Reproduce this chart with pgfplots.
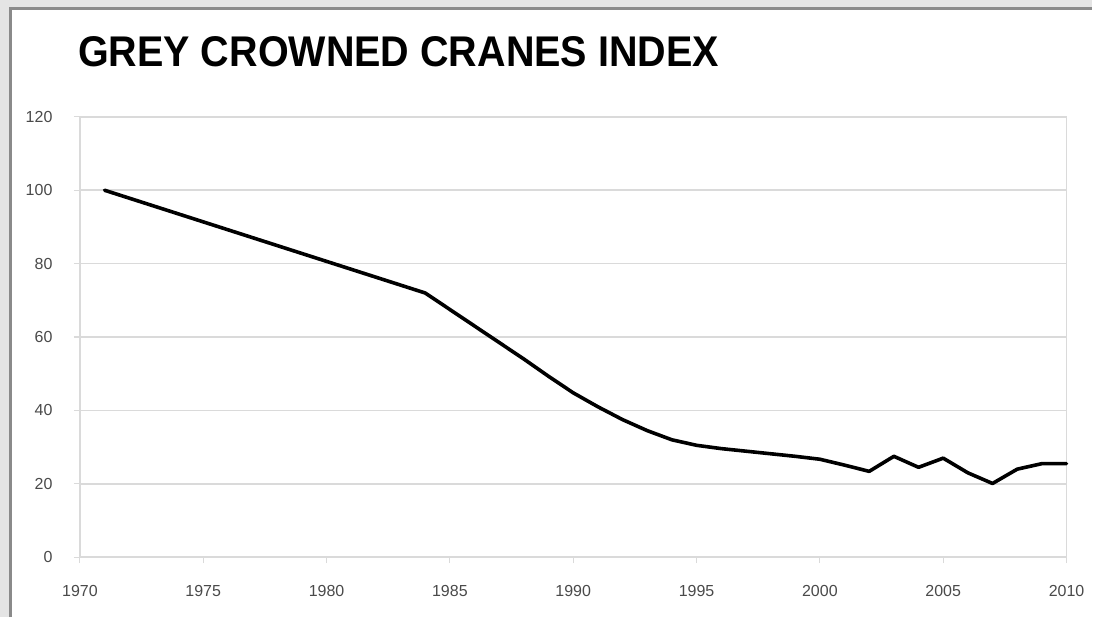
\documentclass[border=0pt]{standalone}
\usepackage{pgfplots}
\pgfplotsset{compat=1.18}
\usepackage{fontspec}
\setmainfont{Liberation Sans}
\definecolor{gridgray}{HTML}{DADADA}
\definecolor{labgray}{HTML}{4A4A4A}
\definecolor{bggray}{HTML}{E4E4E4}
\definecolor{framegray}{HTML}{8A8A8A}
\begin{document}
\begin{tikzpicture}[x=1pt,y=1pt]
\fill[bggray] (0,0) rectangle (1093,618);
\fill[white] (12,0) rectangle (1093,608);
\draw[framegray,line width=3pt] (11,0) -- (11,609.5) -- (1093,609.5);
\node[anchor=west,font=\bfseries\fontsize{43}{47}\selectfont,xscale=0.92,inner sep=0pt] at (78,566) {GREY CROWNED CRANES INDEX};
\begin{axis}[
  at={(80pt,60pt)}, anchor=south west,
  scale only axis, width=988pt, height=441pt,
  xmin=1970, xmax=2010, ymin=0, ymax=120,
  xtick={1970,1975,...,2010}, ytick={0,20,...,120},
  tick pos=left, tick align=outside,
  major tick length=6pt,
  tick style={gridgray, line width=1.2pt},
  axis line style={gridgray, line width=1.5pt},
  ymajorgrids, grid style={gridgray, line width=1.5pt},
  /pgf/number format/assume math mode=true,
  /pgf/number format/1000 sep={},
  ticklabel style={font=\fontsize{16}{19}\selectfont, text=labgray},
  xticklabel style={yshift=-19pt},
  yticklabel style={xshift=-18pt},
  clip=false,
]
\addplot[black, line width=3.6pt, line join=round, line cap=round] coordinates {
(1971,100) (1984,72) (1985,67.5) (1986,63) (1987,58.5) (1988,54) (1989,49.3)
(1990,44.8) (1991,41) (1992,37.5) (1993,34.5) (1994,32) (1995,30.5)
(1996,29.6) (1997,28.9) (1998,28.2) (1999,27.5) (2000,26.7) (2001,25.1)
(2002,23.4) (2003,27.5) (2004,24.5) (2005,27) (2006,23) (2007,20.1)
(2008,24) (2009,25.5) (2010,25.5)
};
\end{axis}
\end{tikzpicture}
\end{document}
